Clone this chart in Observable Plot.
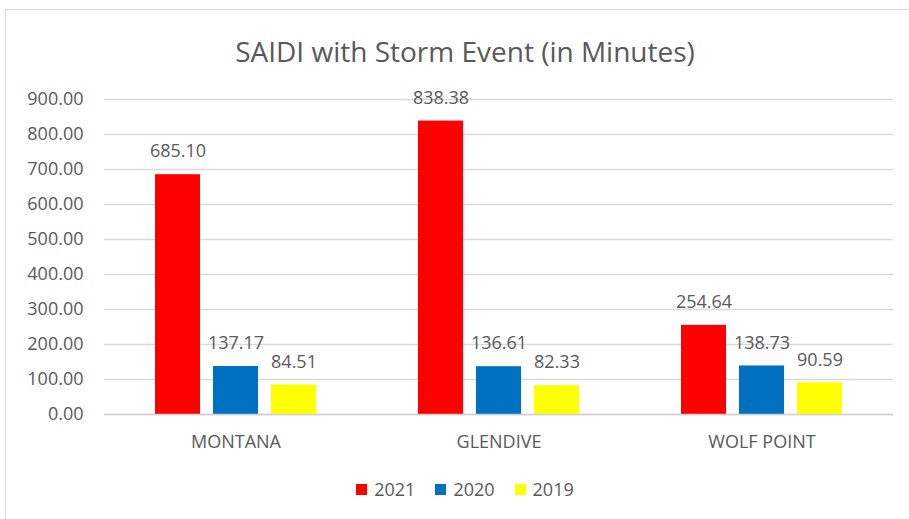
<!DOCTYPE html>
<html>
<head>
<meta charset="utf-8">
<script src="https://cdn.jsdelivr.net/npm/d3@7"></script>
<script src="https://cdn.jsdelivr.net/npm/@observablehq/plot@0.6"></script>
<style>
  html, body { margin: 0; padding: 0; background: #fff; overflow: hidden; width: 909px; height: 519px; }
  body { position: relative; font-family: "Open Sans", sans-serif; color: #595959; }
  #frame { position: absolute; left: 5px; top: 9px; width: 918px; height: 600px; border: 1px solid #d9d9d9; box-sizing: border-box; }
  #title { position: absolute; left: 6px; width: 918px; top: 37px; text-align: center; font-size: 28px; line-height: 28px; color: #595959; }
  #chart { position: absolute; left: 6px; top: 82px; }
  #legend { position: absolute; left: 6px; width: 918px; top: 478px; display: flex; justify-content: center; align-items: center; font-size: 18px; line-height: 22px; color: #595959; }
  .item { display: flex; align-items: center; margin: 0 10px; }
  .sw { width: 11px; height: 11px; margin-right: 7px; }
</style>
</head>
<body>
<div id="frame"></div>
<div id="title">SAIDI with Storm Event (in Minutes)</div>
<div id="chart"></div>
<div id="legend"></div>
<script>
const regions = ["MONTANA", "GLENDIVE", "WOLF POINT"];
const years = ["2021", "2020", "2019"];
const values2021 = [685.10, 838.38, 254.64];
const values2020 = [137.17, 136.61, 138.73];
const values2019 = [84.51, 82.33, 90.59];
const colors = ["#ff0000", "#0070c0", "#ffff00"];
const yTicks = [0, 100, 200, 300, 400, 500, 600, 700, 800, 900];

const series = [values2021, values2020, values2019];
const data = [];
regions.forEach((r, i) => {
  years.forEach((y, j) => {
    data.push({region: r, year: y, value: series[j][i]});
  });
});

const chart = Plot.plot({
  width: 903,
  height: 377,
  marginLeft: 98,
  marginRight: 16,
  marginTop: 17,
  marginBottom: 45,
  style: {fontFamily: "Open Sans, sans-serif", fontSize: "18px", color: "#595959", background: "transparent"},
  fx: {domain: regions, padding: 0, label: null},
  x: {domain: years, paddingInner: 0.22, paddingOuter: 0.839, axis: null},
  y: {domain: [0, 900], label: null},
  color: {domain: years, range: colors},
  marks: [
    Plot.gridY(yTicks, {stroke: "#d9d9d9", strokeOpacity: 1, strokeWidth: 1.3}),
    Plot.axisY(yTicks, {tickSize: 0, tickPadding: 21, tickFormat: d => d.toFixed(2), label: null, fontSize: 18, fill: "#595959"}),
    Plot.axisFx({anchor: "bottom", tickSize: 0, tickPadding: 21, label: null, fontSize: 18, fill: "#595959"}),
    Plot.barY(data, {fx: "region", x: "year", y: "value", fill: "year"}),
    Plot.text(data, {fx: "region", x: "year", y: "value", text: d => d.value.toFixed(2), dy: -23, fontSize: 18, fill: "#595959"}),
    Plot.ruleY([0], {stroke: "#d0d0d0", strokeWidth: 1.5})
  ]
});
document.getElementById("chart").appendChild(chart);

const legend = document.getElementById("legend");
years.forEach((y, i) => {
  const item = document.createElement("div");
  item.className = "item";
  const sw = document.createElement("div");
  sw.className = "sw";
  sw.style.background = colors[i];
  const t = document.createElement("span");
  t.textContent = y;
  item.appendChild(sw);
  item.appendChild(t);
  legend.appendChild(item);
});
</script>
</body>
</html>
